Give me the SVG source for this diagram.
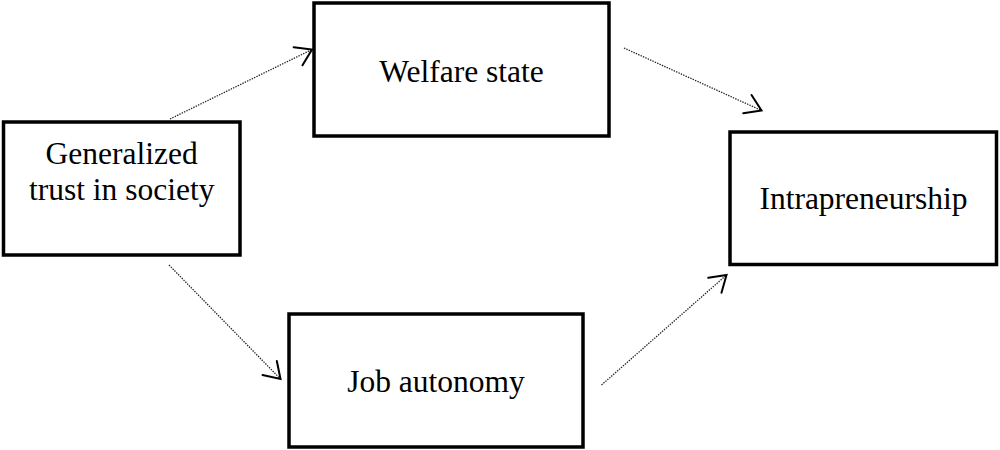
<svg xmlns="http://www.w3.org/2000/svg" width="1000" height="450" viewBox="0 0 1000 450">
  <style>
    .box { fill: #ffffff; stroke: #000000; stroke-width: 3.5; }
    .lbl { font-family: "Liberation Serif", "Times New Roman", serif; font-size: 31.5px; fill: #000000; text-anchor: middle; }
    .conn { fill: none; stroke: #222222; stroke-width: 1.3; stroke-dasharray: 1.4 1.2; }
  </style>
  <defs>
    <marker id="arrow" markerUnits="userSpaceOnUse" viewBox="-20 -13 24 26" refX="0" refY="0" markerWidth="24" markerHeight="26" orient="auto" overflow="visible">
      <path d="M -15.5,-10 L 0,0 L -15.5,10" fill="none" stroke="#000000" stroke-width="2" stroke-linecap="round" stroke-linejoin="miter"/>
    </marker>
  </defs>
  <rect width="1000" height="450" fill="#ffffff"/>
  <g id="connectors">
    <line class="conn" x1="170" y1="119" x2="312" y2="49.5" marker-end="url(#arrow)"/>
    <line class="conn" x1="624" y1="48" x2="761.5" y2="110.5" marker-end="url(#arrow)"/>
    <line class="conn" x1="169" y1="265" x2="280.5" y2="379" marker-end="url(#arrow)"/>
    <line class="conn" x1="601.5" y1="385" x2="726.5" y2="275" marker-end="url(#arrow)"/>
  </g>
  <g id="node-trust">
    <rect class="box" x="3.5" y="122" width="236.5" height="133"/>
    <text class="lbl" x="121.7" y="164">Generalized</text>
    <text class="lbl" x="121.7" y="200">trust in society</text>
  </g>
  <g id="node-welfare">
    <rect class="box" x="314" y="3" width="295" height="133"/>
    <text class="lbl" x="461.5" y="82">Welfare state</text>
  </g>
  <g id="node-intrapreneurship">
    <rect class="box" x="730" y="132" width="266.5" height="132.5"/>
    <text class="lbl" x="863.5" y="209">Intrapreneurship</text>
  </g>
  <g id="node-job">
    <rect class="box" x="289" y="314" width="294" height="133"/>
    <text class="lbl" x="436" y="392">Job autonomy</text>
  </g>
</svg>
